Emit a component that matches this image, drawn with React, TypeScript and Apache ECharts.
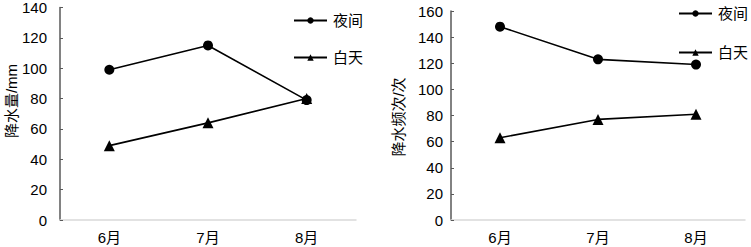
import React, { useEffect, useRef } from "react";
import * as echarts from "echarts";

const months = ["6月", "7月", "8月"];
const seriesNames = ["夜间", "白天"];
const rainNight = [99, 115, 79];
const rainDay = [49, 64, 80];
const freqNight = [148, 123, 119];
const freqDay = [63, 77, 81];
const leftYName = "降水量/mm";
const rightYName = "降水频次/次";

const FONT = "'Liberation Sans', Arial, 'Noto Sans CJK SC', sans-serif";
const FS = 15;

export default function App() {
  const ref = useRef<HTMLDivElement>(null);
  useEffect(() => {
    if (!ref.current) return;
    const chart = echarts.init(ref.current, undefined, { renderer: "svg" });
    const lineStyle = { color: "#000", width: 1.6 };
    const mkSeries = (name: string, data: number[], idx: number, symbol: string) => ({
      name,
      type: "line",
      xAxisIndex: idx,
      yAxisIndex: idx,
      data,
      symbol,
      symbolSize: symbol === "circle" ? 10 : 11,
      itemStyle: { color: "#000" },
      lineStyle,
    });
    const xAxisBase = {
      type: "category",
      data: months,
      boundaryGap: true,
      axisLine: { lineStyle: { color: "#d9d9d9", width: 1.5 } },
      axisTick: { inside: true, length: 3, lineStyle: { color: "#d9d9d9" } },
      axisLabel: { color: "#000", fontSize: FS, fontFamily: FONT, margin: 10 },
    };
    const yAxisBase = {
      type: "value",
      splitLine: { show: false },
      axisLine: { show: true, lineStyle: { color: "#595959", width: 1.5 } },
      axisTick: { show: true, inside: true, length: 3, lineStyle: { color: "#595959" } },
    };
    const legendBase = {
      orient: "vertical",
      itemWidth: 33,
      itemHeight: 8,
      itemGap: 22,
      itemSymbolSize: 7,
      data: seriesNames,
      textStyle: { color: "#000", fontSize: FS, fontFamily: FONT, padding: [0, 0, 0, 1] },
    };
    chart.setOption({
      animation: false,
      grid: [
        { left: 60, right: 395, top: 5, bottom: 27 },
        { left: 451, right: 6, top: 11, bottom: 27 },
      ],
      xAxis: [
        { ...xAxisBase, gridIndex: 0 },
        { ...xAxisBase, gridIndex: 1 },
      ],
      yAxis: [
        {
          ...yAxisBase,
          gridIndex: 0,
          min: 0,
          max: 140,
          interval: 20,
          axisLabel: { color: "#000", fontSize: FS, fontFamily: FONT, margin: 13 },
        },
        {
          ...yAxisBase,
          gridIndex: 1,
          min: 0,
          max: 160,
          interval: 20,
          axisLabel: { color: "#000", fontSize: FS, fontFamily: FONT, margin: 8 },
        },
      ],
      legend: [
        { ...legendBase, left: 288, top: 8, itemGap: 22 },
        { ...legendBase, left: 673, top: 1, itemGap: 24 },
      ],
      graphic: [
        {
          type: "text",
          x: 11,
          y: 101,
          rotation: Math.PI / 2,
          style: {
            text: leftYName,
            fill: "#000",
            font: `${FS}px ${FONT}`,
            align: "center",
            verticalAlign: "middle",
          },
        },
        {
          type: "text",
          x: 398,
          y: 117,
          rotation: Math.PI / 2,
          style: {
            text: rightYName,
            fill: "#000",
            font: `${FS}px ${FONT}`,
            align: "center",
            verticalAlign: "middle",
          },
        },
      ],
      series: [
        mkSeries(seriesNames[0], rainNight, 0, "circle"),
        mkSeries(seriesNames[1], rainDay, 0, "triangle"),
        mkSeries(seriesNames[0], freqNight, 1, "circle"),
        mkSeries(seriesNames[1], freqDay, 1, "triangle"),
      ],
    });
    return () => chart.dispose();
  }, []);
  return <div ref={ref} style={{ width: 751, height: 247, position: "absolute", left: 0, top: 0 }} />;
}
